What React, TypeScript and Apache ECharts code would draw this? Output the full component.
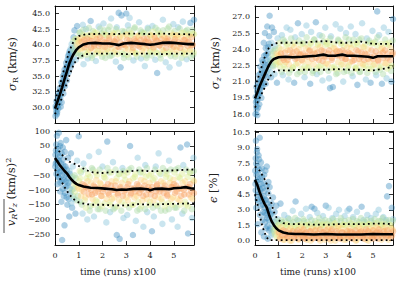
import React, { useEffect, useRef } from "react";
import * as echarts from "echarts";

// ---------- data ----------
const xTicks = [0, 1, 2, 3, 4, 5];
const sigmaRTicks = [30, 32.5, 35, 37.5, 40, 42.5, 45];
const sigmaZTicks = [18, 19.5, 21, 22.5, 24, 25.5, 27];
const vRvzTicks = [-250, -200, -150, -100, -50, 0, 50, 100];
const epsTicks = [0, 1.5, 3, 4.5, 6, 7.5, 9, 10.5];

// [time, value, densityClass]
const sigmaRPoints = [
  [0.02,28.6,0],[0.03,30.2,0],[0.05,29.3,0],[0.06,31.0,0],[0.08,28.9,0],[0.1,30.6,0],[0.12,31.8,0],[0.14,29.8,0],[0.16,32.4,0],[0.18,30.9,0],[0.2,33.1,0],[0.22,31.5,0],[0.25,32.6,0],[0.27,34.0,0],[0.28,30.8,0],[0.3,33.5,0],[0.33,35.0,0],[0.35,32.2,0],[0.37,34.6,0],[0.4,36.0,0],[0.42,33.4,0],[0.45,35.4,0],[0.47,37.1,0],[0.5,34.3,0],[0.52,36.5,0],[0.55,38.2,0],[0.57,35.6,0],[0.6,37.4,0],[0.62,39.0,0],[0.65,36.4,0],[0.68,38.6,0],[0.7,40.1,1],[0.72,37.3,0],[0.75,39.5,1],[0.78,41.2,0],[0.8,38.0,1],[0.82,42.3,0],[0.85,39.8,2],[0.88,37.6,1],[0.9,41.0,2],[0.93,43.0,0],[0.95,38.7,2],[0.98,40.6,3],
  [1.02,40.3,4],[1.05,42.0,2],[1.08,38.4,2],[1.1,41.1,4],[1.14,39.5,4],[1.17,43.2,1],[1.2,36.9,1],[1.23,40.8,5],[1.27,38.9,3],[1.3,42.5,1],[1.34,40.0,5],[1.38,37.8,1],[1.41,41.6,3],[1.45,39.2,4],[1.5,43.8,0],[1.53,40.6,5],[1.57,38.3,2],[1.6,42.2,2],[1.64,39.8,5],[1.68,41.3,4],[1.72,37.4,1],[1.75,40.9,5],[1.8,39.0,3],[1.84,42.9,1],[1.88,40.2,5],[1.92,38.6,3],[1.96,41.8,2],
  [2.0,39.6,4],[2.04,43.4,1],[2.08,40.4,5],[2.12,37.9,2],[2.16,41.5,3],[2.2,39.3,4],[2.24,42.4,2],[2.28,40.7,5],[2.32,38.2,2],[2.36,44.2,1],[2.4,40.1,5],[2.44,41.9,3],[2.48,38.8,3],[2.52,40.5,5],[2.56,37.3,1],[2.6,42.8,1],[2.64,39.7,5],[2.68,45.1,0],[2.72,41.2,4],[2.76,36.4,0],[2.8,44.7,0],[2.84,40.0,5],[2.88,38.5,2],[2.92,42.1,2],[2.96,39.4,4],
  [3.0,45.0,0],[3.03,40.8,5],[3.07,43.1,1],[3.1,38.0,2],[3.14,44.3,1],[3.18,40.3,5],[3.22,41.7,3],[3.26,39.1,4],[3.3,37.5,1],[3.34,42.6,2],[3.38,40.6,5],[3.42,38.7,3],[3.46,41.4,4],[3.5,39.9,5],[3.54,43.6,1],[3.58,40.2,5],[3.62,37.8,1],[3.66,42.0,2],[3.7,39.5,4],[3.74,41.0,5],[3.78,36.6,1],[3.82,40.5,5],[3.86,38.3,2],[3.9,42.7,1],[3.94,39.8,5],[3.98,41.6,3],
  [4.02,38.9,3],[4.06,40.4,5],[4.1,43.0,1],[4.14,39.4,4],[4.18,41.3,4],[4.22,37.6,1],[4.26,40.7,5],[4.3,35.5,0],[4.34,42.3,2],[4.38,39.9,5],[4.42,38.4,2],[4.46,41.8,3],[4.5,40.3,5],[4.54,44.0,1],[4.58,39.0,3],[4.62,41.1,4],[4.66,37.2,1],[4.7,40.6,5],[4.74,42.6,2],[4.78,38.6,3],[4.82,36.4,1],[4.86,40.0,5],[4.9,41.9,3],[4.94,39.3,4],[4.98,43.3,1],
  [5.02,40.5,5],[5.06,38.1,2],[5.1,41.5,4],[5.14,39.6,4],[5.18,42.8,1],[5.22,37.0,1],[5.26,40.2,5],[5.3,41.2,4],[5.34,38.7,3],[5.38,43.7,1],[5.42,40.8,5],[5.46,39.2,4],[5.5,42.2,2],[5.54,37.7,1],[5.58,40.4,5],[5.62,41.7,3],[5.66,38.9,3],[5.7,43.5,0],[5.74,39.9,5],[5.78,42.4,2],[5.82,38.4,2],[5.85,44.0,0],
];
const sigmaRPointsCore = [
  [0.04,29.9,0],[0.09,29.2,0],[0.13,30.3,0],[0.17,31.4,0],[0.21,32.0,0],[0.24,30.1,0],[0.29,32.9,0],[0.32,34.1,0],[0.36,33.6,0],[0.39,35.5,0],[0.43,34.9,0],[0.46,36.4,0],[0.49,35.8,0],[0.53,37.6,0],[0.56,36.9,0],[0.59,38.6,0],[0.63,37.8,0],[0.66,39.4,1],[0.69,37.0,0],[0.73,39.0,1],[0.76,40.6,2],[0.79,39.1,2],[0.84,40.9,3],[0.87,38.6,2],[0.92,40.0,4],[0.97,39.2,3],
  [1.0,40.9,4],[1.06,39.3,4],[1.12,40.5,5],[1.18,41.6,3],[1.24,39.6,5],[1.29,40.2,5],[1.35,41.0,5],[1.4,38.9,3],[1.46,40.7,5],[1.52,39.5,5],[1.58,41.4,4],[1.63,40.1,5],[1.69,39.2,4],[1.74,41.9,3],[1.79,40.4,5],[1.85,39.8,5],[1.9,41.2,5],[1.95,39.0,4],
  [2.01,40.8,5],[2.06,41.7,3],[2.11,39.7,5],[2.17,40.3,5],[2.22,38.9,3],[2.27,41.1,5],[2.33,40.0,5],[2.38,39.4,4],[2.43,41.5,4],[2.49,40.6,5],[2.54,39.1,4],[2.59,40.9,5],[2.65,41.9,3],[2.7,39.6,5],[2.75,40.4,5],[2.81,38.8,3],[2.86,41.3,4],[2.91,40.1,5],[2.97,39.9,5],
  [3.02,41.6,4],[3.08,39.3,4],[3.13,40.7,5],[3.19,41.9,3],[3.24,40.0,5],[3.29,39.5,5],[3.35,40.9,5],[3.4,38.6,3],[3.45,40.4,5],[3.51,41.3,4],[3.56,39.7,5],[3.61,40.8,5],[3.67,39.0,4],[3.72,41.8,3],[3.77,40.2,5],[3.83,39.4,4],[3.88,41.0,5],[3.93,40.5,5],[3.99,38.9,3],
  [4.04,41.5,4],[4.09,40.1,5],[4.15,39.6,5],[4.2,41.1,5],[4.25,38.8,3],[4.31,40.6,5],[4.36,41.8,3],[4.41,39.9,5],[4.47,40.9,5],[4.52,39.2,4],[4.57,41.4,4],[4.63,40.3,5],[4.68,39.5,5],[4.73,41.0,5],[4.79,40.7,5],[4.84,38.9,3],[4.89,40.2,5],[4.95,41.6,4],
  [5.0,39.7,5],[5.05,40.9,5],[5.11,39.1,4],[5.16,41.3,4],[5.21,40.4,5],[5.27,39.5,5],[5.32,41.9,3],[5.37,40.1,5],[5.43,38.8,3],[5.48,40.8,5],[5.53,41.4,4],[5.59,39.8,5],[5.64,40.5,5],[5.69,39.2,4],[5.75,41.2,5],[5.8,40.0,5],[5.85,41.7,3],
];
const sigmaRPointsMid = [
  [1.03,41.9,2],[1.11,38.2,2],[1.19,42.4,2],[1.26,41.4,3],[1.33,38.4,3],[1.43,42.7,2],[1.49,41.5,3],[1.55,37.9,2],[1.66,42.0,3],[1.73,38.6,3],[1.82,41.6,3],[1.9,42.6,2],[1.98,38.1,2],
  [2.07,42.3,2],[2.14,38.7,3],[2.21,41.5,3],[2.3,42.9,2],[2.39,38.3,2],[2.46,41.8,3],[2.57,42.5,2],[2.63,38.5,3],[2.74,41.4,3],[2.83,42.2,2],[2.9,37.9,2],[2.99,41.7,3],
  [3.05,38.4,3],[3.12,42.4,2],[3.2,41.4,3],[3.28,38.8,3],[3.36,42.8,2],[3.44,38.1,2],[3.53,41.6,3],[3.6,42.3,2],[3.69,38.5,3],[3.76,41.9,2],[3.85,37.9,2],[3.92,42.5,2],
  [4.0,41.4,3],[4.07,38.3,2],[4.13,42.1,3],[4.23,42.7,2],[4.29,38.7,3],[4.39,41.5,3],[4.45,37.8,2],[4.55,42.3,2],[4.6,38.6,3],[4.71,41.7,3],[4.8,42.9,2],[4.87,38.2,2],[4.93,41.4,3],
  [5.03,42.2,2],[5.09,38.5,3],[5.17,41.6,3],[5.25,42.6,2],[5.33,37.9,2],[5.41,41.9,3],[5.49,38.4,3],[5.57,42.4,2],[5.65,41.5,3],[5.72,38.0,2],[5.8,41.8,3],[5.84,38.8,3],
];
const sigmaRMedian = [[0,29.8],[0.1,30.9],[0.2,32.0],[0.3,33.2],[0.4,34.5],[0.5,35.7],[0.6,37.0],[0.7,37.9],[0.78,38.5],[0.9,39.2],[1.0,39.6],[1.2,40.05],[1.4,40.25],[1.7,40.3],[2.0,40.2],[2.3,40.2],[2.5,40.1],[2.7,39.95],[2.9,40.2],[3.2,40.3],[3.5,40.2],[3.8,40.1],[4.0,40.0],[4.2,40.1],[4.5,40.3],[4.8,40.35],[5.0,40.3],[5.3,40.2],[5.6,40.1],[5.85,40.1]];
const sigmaRUpper = [[0,31.0],[0.2,33.5],[0.4,36.3],[0.6,39.0],[0.8,40.7],[1.0,41.4],[1.3,41.7],[1.6,41.7],[2,41.8],[2.5,41.7],[3,41.8],[3.5,41.8],[4,41.7],[4.5,41.8],[5,41.7],[5.5,41.7],[5.85,41.6]];
const sigmaRLower = [[0,28.9],[0.2,30.6],[0.4,32.7],[0.6,35.0],[0.8,37.0],[1.0,38.0],[1.3,38.5],[1.6,38.6],[2,38.6],[2.5,38.6],[3,38.5],[3.5,38.6],[4,38.6],[4.5,38.5],[5,38.6],[5.5,38.6],[5.85,38.6]];

const sigmaZPoints = [
  [0.02,18.0,0],[0.03,19.6,0],[0.05,18.7,0],[0.06,20.5,0],[0.08,19.2,0],[0.1,17.9,0],[0.12,20.9,0],[0.14,19.8,0],[0.16,21.6,0],[0.18,18.9,0],[0.2,20.3,0],[0.22,22.4,0],[0.25,21.1,0],[0.27,19.5,0],[0.3,23.0,0],[0.32,20.6,0],[0.35,21.8,0],[0.37,24.6,0],[0.4,22.3,0],[0.42,25.5,0],[0.45,20.8,0],[0.47,23.5,0],[0.5,21.9,0],[0.52,26.1,0],[0.55,24.2,0],[0.57,22.6,0],[0.6,25.2,0],[0.62,27.1,0],[0.65,23.0,1],[0.68,21.4,0],[0.7,24.6,1],[0.72,26.0,0],[0.75,22.5,1],[0.78,23.8,2],[0.8,25.6,0],[0.83,21.7,1],[0.86,24.3,1],[0.9,22.9,3],[0.93,20.9,0],[0.96,25.0,1],[0.99,23.4,4],
  [1.02,24.1,3],[1.06,22.4,3],[1.1,23.6,5],[1.14,25.3,1],[1.18,21.6,1],[1.22,23.0,5],[1.26,24.7,2],[1.3,22.8,4],[1.34,26.0,1],[1.38,23.9,4],[1.42,21.2,1],[1.46,23.3,5],[1.5,25.8,1],[1.54,22.1,2],[1.58,24.4,3],[1.62,23.7,5],[1.66,20.9,0],[1.7,25.1,1],[1.74,22.6,3],[1.78,23.2,5],[1.82,26.4,0],[1.86,24.0,4],[1.9,21.9,2],[1.94,23.5,5],[1.98,25.4,1],
  [2.02,22.9,4],[2.06,24.6,2],[2.1,21.4,1],[2.14,23.4,5],[2.18,26.2,1],[2.22,22.3,3],[2.26,24.2,3],[2.3,23.8,5],[2.34,20.8,0],[2.38,25.6,1],[2.42,23.1,5],[2.46,22.0,2],[2.5,24.9,2],[2.54,23.6,5],[2.58,26.5,0],[2.62,21.7,1],[2.66,24.4,3],[2.7,23.0,5],[2.74,25.3,1],[2.78,22.5,3],[2.82,23.9,5],[2.86,21.1,1],[2.9,24.7,2],[2.94,23.3,5],[2.98,26.0,1],
  [3.02,22.7,4],[3.06,24.5,3],[3.1,23.6,5],[3.14,21.3,1],[3.18,20.4,0],[3.22,25.2,1],[3.26,23.2,5],[3.3,20.5,0],[3.34,24.1,4],[3.38,22.2,3],[3.42,26.3,1],[3.46,23.8,5],[3.5,21.8,2],[3.54,24.8,2],[3.58,23.4,5],[3.62,25.9,1],[3.66,22.6,3],[3.7,23.9,5],[3.74,21.0,1],[3.78,24.3,3],[3.82,23.1,5],[3.86,25.5,1],[3.9,22.0,2],[3.94,23.7,5],[3.98,24.9,2],
  [4.02,22.8,4],[4.06,26.1,1],[4.1,23.5,5],[4.14,21.5,1],[4.18,24.4,3],[4.22,23.0,5],[4.26,25.4,1],[4.3,22.3,3],[4.34,20.7,0],[4.38,23.8,5],[4.42,24.9,2],[4.46,21.9,2],[4.5,23.3,5],[4.54,26.4,1],[4.58,22.6,4],[4.62,24.2,3],[4.66,23.6,5],[4.7,21.2,1],[4.74,25.0,1],[4.78,23.1,5],[4.82,22.2,3],[4.86,24.6,2],[4.9,20.9,0],[4.94,23.9,5],[4.98,25.7,1],
  [5.02,22.5,3],[5.06,23.4,5],[5.1,24.7,2],[5.14,21.6,1],[5.18,27.5,0],[5.22,23.0,5],[5.26,25.3,1],[5.3,22.1,2],[5.34,24.0,4],[5.38,20.8,0],[5.42,23.7,5],[5.46,26.0,1],[5.5,22.7,4],[5.54,24.5,3],[5.58,21.3,1],[5.62,23.2,5],[5.66,25.6,1],[5.7,22.4,3],[5.74,24.1,4],[5.78,21.0,0],[5.82,23.5,5],[5.85,26.8,0],
];
const sigmaZPointsCore = [
  [0.04,19.1,0],[0.07,18.4,0],[0.09,20.1,0],[0.11,19.4,0],[0.13,18.6,0],[0.15,20.6,0],[0.17,19.9,0],[0.19,21.2,0],[0.21,20.0,0],[0.24,21.8,0],[0.26,20.5,0],[0.29,22.1,0],[0.31,21.3,0],[0.34,22.8,0],[0.36,20.9,0],[0.39,23.4,0],[0.41,21.6,0],[0.44,22.5,0],[0.46,24.1,0],[0.49,23.0,0],[0.51,21.4,0],[0.54,23.6,0],[0.56,22.2,1],[0.59,24.5,0],[0.61,23.1,1],[0.64,21.9,1],[0.66,24.0,1],[0.69,22.8,2],[0.73,23.5,2],[0.77,22.4,2],[0.81,23.2,3],[0.85,24.0,2],[0.88,22.6,3],[0.92,23.6,4],[0.97,22.8,3],
  [1.0,23.5,4],[1.05,22.8,4],[1.11,24.0,4],[1.16,23.2,5],[1.22,22.5,3],[1.27,23.7,5],[1.33,24.3,3],[1.38,23.0,5],[1.44,22.6,4],[1.49,23.9,5],[1.55,23.4,5],[1.6,22.3,3],[1.66,24.2,4],[1.71,23.1,5],[1.77,23.8,5],[1.82,22.7,4],[1.88,23.5,5],[1.93,24.4,3],[1.99,23.0,5],
  [2.04,23.6,5],[2.1,22.4,3],[2.15,24.1,4],[2.21,23.3,5],[2.26,22.8,4],[2.32,23.9,5],[2.37,24.5,3],[2.43,23.5,5],[2.48,22.6,4],[2.54,24.0,4],[2.59,23.2,5],[2.65,23.7,5],[2.7,22.4,3],[2.76,24.2,4],[2.81,23.4,5],[2.87,22.9,5],[2.92,23.8,5],[2.98,24.4,3],
  [3.03,23.3,5],[3.09,22.6,4],[3.14,23.9,5],[3.2,24.3,3],[3.25,23.0,5],[3.31,23.6,5],[3.36,22.4,3],[3.42,24.0,4],[3.47,23.4,5],[3.53,22.8,4],[3.58,23.8,5],[3.64,24.5,3],[3.69,23.2,5],[3.75,22.6,4],[3.8,23.7,5],[3.86,23.1,5],[3.91,24.2,4],[3.97,22.5,3],
  [4.02,23.6,5],[4.08,24.1,4],[4.13,22.9,5],[4.19,23.4,5],[4.24,22.3,3],[4.3,23.9,5],[4.35,24.4,3],[4.41,23.1,5],[4.46,22.7,4],[4.52,23.7,5],[4.57,24.2,4],[4.63,23.0,5],[4.68,22.5,3],[4.74,23.5,5],[4.79,24.0,4],[4.85,22.8,4],[4.9,23.3,5],[4.96,24.5,3],
  [5.01,23.1,5],[5.07,22.6,4],[5.12,23.8,5],[5.18,24.3,3],[5.23,22.9,5],[5.29,23.5,5],[5.34,22.4,3],[5.4,24.1,4],[5.45,23.2,5],[5.51,23.9,5],[5.56,22.7,4],[5.62,23.6,5],[5.67,24.4,3],[5.73,23.0,5],[5.78,22.5,3],[5.84,23.7,5],
];
const sigmaZPointsMid = [
  [1.04,24.6,3],[1.13,21.9,2],[1.2,24.9,2],[1.29,22.2,3],[1.37,24.5,3],[1.45,21.8,2],[1.53,25.0,2],[1.61,22.3,3],[1.69,24.6,3],[1.79,21.7,2],[1.87,24.8,2],[1.96,22.2,3],
  [2.03,24.5,3],[2.12,21.9,2],[2.19,25.1,2],[2.28,22.3,3],[2.35,24.6,3],[2.44,21.8,2],[2.52,24.9,2],[2.61,22.2,3],[2.68,24.5,3],[2.77,21.9,2],[2.85,25.2,2],[2.95,22.3,3],
  [3.04,24.7,3],[3.11,22.0,2],[3.19,25.0,2],[3.27,22.3,3],[3.35,24.5,3],[3.44,21.7,2],[3.52,24.9,2],[3.6,22.2,3],[3.68,24.6,3],[3.77,21.9,2],[3.84,25.1,2],[3.93,22.3,3],
  [4.01,24.5,3],[4.09,21.8,2],[4.17,24.9,2],[4.27,22.2,3],[4.33,24.6,3],[4.43,21.9,2],[4.51,25.0,2],[4.59,22.3,3],[4.67,24.5,3],[4.76,21.8,2],[4.84,24.8,2],[4.93,22.2,3],
  [5.03,24.6,3],[5.11,21.9,2],[5.19,25.1,2],[5.27,22.3,3],[5.35,24.5,3],[5.43,21.7,2],[5.52,24.9,2],[5.6,22.2,3],[5.69,24.6,3],[5.77,22.0,2],[5.83,24.8,2],
];
const sigmaZMedian = [[0,19.45],[0.1,20.0],[0.2,20.6],[0.3,21.1],[0.4,21.6],[0.5,22.1],[0.6,22.55],[0.7,22.9],[0.8,23.1],[1.0,23.25],[1.3,23.3],[1.6,23.25],[2.0,23.3],[2.3,23.35],[2.6,23.4],[2.9,23.5],[3.1,23.4],[3.4,23.4],[3.7,23.5],[3.9,23.4],[4.2,23.4],[4.5,23.35],[4.8,23.3],[5.0,23.2],[5.2,23.35],[5.5,23.35],[5.85,23.35]];
const sigmaZUpper = [[0,20.5],[0.2,21.8],[0.4,23.2],[0.6,24.2],[0.8,24.5],[1.0,24.6],[1.5,24.6],[2,24.6],[2.5,24.7],[3,24.75],[3.5,24.6],[4,24.6],[4.5,24.7],[5,24.5],[5.5,24.5],[5.85,24.5]];
const sigmaZLower = [[0,18.6],[0.2,19.5],[0.4,20.4],[0.6,21.4],[0.8,21.9],[1.0,22.05],[1.5,22.05],[2,22.1],[2.5,22.1],[3,22.1],[3.5,22.15],[4,22.1],[4.5,22.1],[5,22.05],[5.5,22.2],[5.85,22.4]];

const vRvzPoints = [
  [0.02,20,0],[0.03,-10,0],[0.05,55,0],[0.06,-45,0],[0.08,85,0],[0.1,5,0],[0.11,-80,0],[0.13,40,0],[0.15,-25,0],[0.16,95,0],[0.18,-60,0],[0.2,15,0],[0.22,-105,0],[0.24,60,0],[0.25,-35,0],[0.27,-140,0],[0.28,25,0],[0.3,-270,0],[0.31,-70,0],[0.33,45,0],[0.35,-15,0],[0.37,-120,0],[0.4,-220,0],[0.41,30,0],[0.43,-50,0],[0.45,-90,0],[0.47,70,0],[0.5,-30,0],[0.52,-150,0],[0.55,10,0],[0.57,-75,0],[0.6,-190,0],[0.62,-45,0],[0.65,-110,0],[0.67,25,0],[0.7,-60,1],[0.72,-160,0],[0.75,-20,1],[0.78,-95,1],[0.8,-130,1],[0.83,-50,2],[0.86,-180,0],[0.9,-85,3],[0.93,0,1],[0.96,-120,2],[1.0,83,0],
  [1.02,-70,3],[1.05,-140,2],[1.09,-40,2],[1.12,-100,4],[1.16,-180,1],[1.2,-10,1],[1.24,-85,5],[1.28,-125,4],[1.32,-60,3],[1.36,-200,1],[1.4,-95,5],[1.44,15,1],[1.48,-155,2],[1.52,-75,4],[1.56,-115,5],[1.6,-30,2],[1.64,-190,1],[1.68,-90,5],[1.72,-135,3],[1.76,-50,3],[1.8,-105,5],[1.84,30,1],[1.88,-165,2],[1.92,-80,4],[1.96,-120,4],
  [2.0,-20,1],[2.04,-95,5],[2.08,-145,3],[2.12,-60,3],[2.16,-210,1],[2.2,65,0],[2.24,-110,5],[2.28,-40,2],[2.32,-175,1],[2.36,-85,5],[2.4,-130,4],[2.44,-5,1],[2.48,-100,5],[2.52,-160,2],[2.56,-70,4],[2.6,-253,0],[2.64,-115,5],[2.68,-45,2],[2.72,-266,0],[2.76,-90,5],[2.8,-140,3],[2.84,-25,1],[2.88,-195,1],[2.92,-105,5],[2.96,-65,3],
  [3.0,-125,4],[3.04,-185,1],[3.08,-80,5],[3.12,-30,2],[3.16,50,0],[3.2,-110,5],[3.24,-150,3],[3.28,-253,0],[3.32,-95,5],[3.36,-55,3],[3.4,-205,1],[3.44,-120,4],[3.48,10,1],[3.52,-85,5],[3.56,-165,2],[3.6,-40,2],[3.64,-100,5],[3.68,-135,4],[3.72,-225,1],[3.76,-70,4],[3.8,-15,1],[3.84,-115,5],[3.88,-175,1],[3.92,-90,5],[3.96,-50,3],
  [4.0,-140,3],[4.04,-100,5],[4.08,-240,0],[4.12,-65,3],[4.16,-190,1],[4.2,-120,5],[4.24,-20,1],[4.28,-85,5],[4.32,-155,2],[4.36,25,1],[4.4,-105,5],[4.44,-45,2],[4.48,-130,4],[4.52,-215,1],[4.56,-75,4],[4.6,-95,5],[4.64,-170,2],[4.68,-35,2],[4.72,-115,5],[4.76,-145,3],[4.8,0,1],[4.84,-60,3],[4.88,-90,5],[4.92,-200,1],[4.96,-125,4],
  [5.0,-80,5],[5.04,-160,2],[5.08,-30,2],[5.12,-105,5],[5.16,-225,1],[5.2,-55,3],[5.24,-135,4],[5.28,45,0],[5.32,-95,5],[5.36,-180,1],[5.4,-15,1],[5.44,-115,5],[5.48,-70,4],[5.52,-150,3],[5.56,55,0],[5.6,-248,0],[5.64,-90,5],[5.68,-40,2],[5.72,-125,4],[5.76,-195,1],[5.8,-65,3],[5.83,10,1],[5.85,-110,5],
];
const vRvzPointsCore = [
  [0.01,-20,0],[0.04,35,0],[0.07,-5,0],[0.09,-30,0],[0.12,25,0],[0.14,-55,0],[0.17,0,0],[0.19,-40,0],[0.21,50,0],[0.23,-75,0],[0.26,-10,0],[0.29,-50,0],[0.32,-95,0],[0.34,5,0],[0.36,-65,0],[0.38,-30,0],[0.42,-110,0],[0.44,-20,0],[0.46,-70,0],[0.49,-125,0],[0.51,-45,0],[0.53,-85,0],[0.56,-60,0],[0.58,-130,0],[0.61,-35,1],[0.63,-95,1],[0.66,-70,1],[0.69,-145,1],[0.71,-100,2],[0.74,-55,2],[0.77,-120,2],[0.81,-80,3],[0.84,-105,3],[0.88,-60,2],[0.92,-135,2],[0.97,-90,4],
  [1.0,-95,4],[1.05,-60,3],[1.1,-120,4],[1.15,-80,5],[1.21,-105,5],[1.26,-135,3],[1.31,-90,5],[1.37,-70,4],[1.42,-115,5],[1.47,-55,3],[1.53,-100,5],[1.58,-130,4],[1.63,-85,5],[1.69,-110,5],[1.74,-65,4],[1.79,-140,3],[1.85,-95,5],[1.9,-75,4],[1.95,-120,5],
  [2.01,-105,5],[2.06,-55,3],[2.11,-90,5],[2.17,-130,4],[2.22,-80,5],[2.27,-115,5],[2.33,-140,3],[2.38,-70,4],[2.43,-100,5],[2.49,-125,4],[2.54,-85,5],[2.59,-60,3],[2.65,-110,5],[2.7,-135,4],[2.75,-95,5],[2.81,-75,4],[2.86,-120,5],[2.91,-50,3],[2.97,-100,5],
  [3.02,-90,5],[3.07,-135,4],[3.13,-70,4],[3.18,-115,5],[3.23,-95,5],[3.29,-60,3],[3.34,-125,4],[3.39,-105,5],[3.45,-80,5],[3.5,-140,3],[3.55,-110,5],[3.61,-65,4],[3.66,-95,5],[3.71,-120,5],[3.77,-85,5],[3.82,-55,3],[3.87,-130,4],[3.93,-100,5],[3.98,-75,4],
  [4.03,-115,5],[4.09,-90,5],[4.14,-135,4],[4.19,-60,3],[4.25,-105,5],[4.3,-80,5],[4.35,-125,4],[4.41,-95,5],[4.46,-70,4],[4.51,-140,3],[4.57,-110,5],[4.62,-85,5],[4.67,-55,3],[4.73,-120,5],[4.78,-100,5],[4.83,-75,4],[4.89,-130,4],[4.94,-90,5],[4.99,-65,4],
  [5.05,-110,5],[5.1,-85,5],[5.15,-130,4],[5.21,-95,5],[5.26,-60,3],[5.31,-120,5],[5.37,-75,4],[5.42,-100,5],[5.47,-140,3],[5.53,-90,5],[5.58,-55,3],[5.63,-115,5],[5.69,-80,5],[5.74,-105,5],[5.79,-130,4],[5.85,-70,4],
];
const vRvzPointsMid = [
  [1.04,-35,3],[1.13,-150,2],[1.21,-30,2],[1.3,-160,3],[1.39,-45,3],[1.46,-170,2],[1.55,-25,2],[1.62,-150,3],[1.71,-40,3],[1.8,-165,2],[1.88,-30,2],[1.97,-155,3],
  [2.05,-45,3],[2.13,-170,2],[2.21,-25,2],[2.3,-150,3],[2.37,-40,3],[2.46,-165,2],[2.55,-30,2],[2.62,-155,3],[2.71,-45,3],[2.79,-170,2],[2.87,-35,2],[2.95,-150,3],
  [3.05,-40,3],[3.12,-160,2],[3.21,-25,2],[3.3,-150,3],[3.38,-45,3],[3.46,-170,2],[3.54,-30,2],[3.63,-155,3],[3.7,-40,3],[3.79,-165,2],[3.87,-25,2],[3.95,-150,3],
  [4.05,-45,3],[4.12,-160,2],[4.21,-30,2],[4.29,-150,3],[4.38,-40,3],[4.46,-170,2],[4.54,-25,2],[4.62,-155,3],[4.7,-45,3],[4.79,-165,2],[4.87,-30,2],[4.95,-150,3],
  [5.03,-40,3],[5.11,-160,2],[5.19,-25,2],[5.28,-150,3],[5.35,-45,3],[5.44,-170,2],[5.52,-30,2],[5.6,-155,3],[5.68,-40,3],[5.76,-165,2],[5.84,-35,2],
];
const vRvzMedian = [[0,9],[0.1,-3],[0.2,-15],[0.3,-25],[0.4,-35],[0.5,-43],[0.6,-55],[0.7,-65],[0.8,-73],[0.9,-79],[1.0,-83],[1.2,-88],[1.5,-92],[1.8,-93],[2.1,-95],[2.4,-97],[2.6,-100],[2.8,-98],[3.0,-99],[3.3,-96],[3.6,-95],[3.9,-97],[4.0,-101],[4.2,-96],[4.5,-95],[4.8,-97],[5.0,-94],[5.3,-92],[5.5,-90],[5.7,-94],[5.85,-95]];
const vRvzUpper = [[0,45],[0.2,30],[0.4,10],[0.6,-3],[0.8,-10],[1.0,-18],[1.3,-32],[1.6,-40],[2,-42],[2.5,-38],[3,-37],[3.5,-33],[4,-36],[4.5,-35],[5,-33],[5.5,-31],[5.85,-30]];
const vRvzLower = [[0,-30],[0.2,-60],[0.4,-90],[0.6,-115],[0.8,-132],[1.0,-142],[1.3,-148],[1.6,-150],[2,-150],[2.5,-152],[3,-152],[3.5,-148],[4,-150],[4.5,-148],[5,-147],[5.5,-146],[5.85,-145]];

const epsPoints = [
  [0.02,5.5,0],[0.03,8.0,0],[0.04,9.7,0],[0.05,3.2,0],[0.06,6.4,0],[0.08,8.6,0],[0.09,4.4,0],[0.1,7.2,0],[0.12,1.6,0],[0.13,5.9,0],[0.15,8.3,0],[0.16,3.8,0],[0.18,6.9,0],[0.2,10.0,0],[0.21,2.5,0],[0.23,5.0,0],[0.25,7.6,0],[0.27,0.8,0],[0.28,4.2,0],[0.3,6.2,0],[0.32,2.0,0],[0.34,3.5,0],[0.36,5.6,0],[0.38,0.4,0],[0.4,4.8,0],[0.42,2.7,0],[0.44,6.8,0],[0.46,1.2,0],[0.48,3.9,0],[0.5,7.2,0],[0.52,2.2,0],[0.54,0.2,0],[0.56,4.6,0],[0.58,3.0,0],[0.6,1.0,0],[0.62,5.2,0],[0.65,2.5,0],[0.68,0.5,1],[0.7,3.6,0],[0.73,1.6,1],[0.76,4.2,0],[0.8,0.9,2],[0.83,2.8,0],[0.86,1.4,2],[0.9,3.4,0],[0.93,0.3,3],[0.96,2.1,1],
  [1.0,1.2,3],[1.04,0.4,4],[1.08,3.6,0],[1.12,0.9,4],[1.16,1.8,2],[1.2,0.1,4],[1.24,2.5,1],[1.28,0.6,5],[1.32,1.4,3],[1.36,0.3,5],[1.4,2.2,1],[1.44,1.0,4],[1.48,0.0,4],[1.52,1.7,2],[1.56,0.7,5],[1.6,2.9,1],[1.64,0.4,5],[1.68,1.2,3],[1.72,3.8,0],[1.76,0.8,5],[1.8,2.0,1],[1.84,0.2,5],[1.88,1.5,3],[1.92,0.6,5],[1.96,2.6,1],
  [2.0,1.0,4],[2.04,0.3,5],[2.08,1.9,2],[2.12,0.7,5],[2.16,3.1,1],[2.2,0.1,4],[2.24,1.3,3],[2.28,0.5,5],[2.32,2.3,1],[2.36,0.9,5],[2.4,3.3,0],[2.44,0.2,5],[2.48,1.6,2],[2.52,3.1,0],[2.56,0.6,5],[2.6,1.1,4],[2.64,2.7,1],[2.68,0.4,5],[2.72,1.8,2],[2.76,0.0,4],[2.8,1.3,3],[2.84,0.8,5],[2.88,2.4,1],[2.92,0.3,5],[2.96,1.5,3],
  [3.0,3.4,0],[3.04,0.6,5],[3.08,1.1,4],[3.12,3.2,1],[3.16,0.2,5],[3.2,1.7,2],[3.24,0.9,5],[3.28,2.2,1],[3.32,0.4,5],[3.36,1.4,3],[3.4,0.0,4],[3.44,2.6,1],[3.48,0.7,5],[3.52,1.2,4],[3.56,3.0,1],[3.6,0.3,5],[3.64,1.9,2],[3.68,0.8,5],[3.72,1.5,3],[3.76,0.1,4],[3.8,2.4,1],[3.84,0.6,5],[3.88,1.0,4],[3.92,2.9,1],[3.96,0.4,5],
  [4.0,3.1,0],[4.04,0.9,5],[4.08,1.6,2],[4.12,0.2,5],[4.16,2.3,1],[4.2,0.7,5],[4.24,1.3,3],[4.28,0.0,4],[4.32,2.8,1],[4.36,0.5,5],[4.4,1.8,2],[4.44,0.8,5],[4.48,1.1,4],[4.52,3.3,0],[4.56,0.3,5],[4.6,2.0,1],[4.64,0.6,5],[4.68,1.4,3],[4.72,0.1,4],[4.76,2.5,1],[4.8,0.9,5],[4.84,1.6,3],[4.88,0.4,5],[4.92,2.2,1],[4.96,1.0,4],
  [5.0,0.2,5],[5.04,1.7,2],[5.08,0.7,5],[5.12,2.6,1],[5.16,0.4,5],[5.2,1.2,4],[5.24,3.0,1],[5.28,0.8,5],[5.32,1.9,2],[5.36,0.1,4],[5.4,1.4,3],[5.44,2.3,1],[5.48,0.6,5],[5.52,1.0,4],[5.56,2.0,1],[5.6,4.3,0],[5.64,0.5,5],[5.68,5.3,0],[5.72,1.5,3],[5.76,0.3,5],[5.8,3.2,0],[5.83,1.1,4],[5.85,2.1,1],
];
const epsPointsCore = [
  [0.01,6.8,0],[0.03,4.9,0],[0.05,7.5,0],[0.07,5.8,0],[0.09,8.9,0],[0.11,4.0,0],[0.13,6.5,0],[0.15,5.2,0],[0.17,7.9,0],[0.19,4.6,0],[0.22,6.0,0],[0.24,3.4,0],[0.26,5.5,0],[0.29,7.0,0],[0.31,3.9,0],[0.33,5.1,0],[0.35,2.8,0],[0.37,4.3,0],[0.39,6.4,0],[0.41,3.2,0],[0.43,1.8,0],[0.45,4.0,0],[0.47,2.5,0],[0.49,5.3,0],[0.51,3.6,0],[0.53,1.4,0],[0.55,2.9,0],[0.57,5.7,0],[0.59,2.0,0],[0.61,3.3,0],[0.64,1.2,0],[0.66,2.6,0],[0.69,1.9,1],[0.72,0.7,1],[0.75,2.3,1],[0.78,1.1,2],[0.82,1.8,1],[0.85,0.6,3],[0.88,1.2,3],[0.92,1.9,2],[0.95,0.8,4],[0.98,1.5,3],
  [1.02,0.8,5],[1.06,0.2,5],[1.1,1.3,4],[1.15,0.5,5],[1.2,1.0,5],[1.25,0.1,4],[1.3,0.9,5],[1.35,1.5,3],[1.4,0.4,5],[1.45,0.7,5],[1.5,1.2,4],[1.55,0.0,4],[1.6,0.9,5],[1.65,0.3,5],[1.7,1.4,3],[1.75,0.6,5],[1.8,1.0,5],[1.85,0.1,4],[1.9,0.8,5],[1.95,1.3,4],
  [2.01,0.5,5],[2.06,1.1,5],[2.11,0.2,5],[2.16,0.8,5],[2.21,1.5,3],[2.26,0.4,5],[2.31,0.9,5],[2.36,0.0,4],[2.41,1.2,4],[2.46,0.6,5],[2.51,0.3,5],[2.56,1.0,5],[2.61,1.4,3],[2.66,0.7,5],[2.71,0.2,5],[2.76,1.1,5],[2.81,0.5,5],[2.86,1.6,3],[2.91,0.8,5],[2.96,0.1,4],
  [3.01,1.0,5],[3.06,0.4,5],[3.11,1.3,4],[3.16,0.7,5],[3.21,0.0,4],[3.26,1.1,5],[3.31,0.6,5],[3.36,1.6,3],[3.41,0.3,5],[3.46,0.9,5],[3.51,1.4,4],[3.56,0.5,5],[3.61,0.2,5],[3.66,1.2,4],[3.71,0.8,5],[3.76,0.4,5],[3.81,1.5,3],[3.86,0.1,4],[3.91,0.9,5],[3.96,0.6,5],
  [4.01,1.2,4],[4.06,0.3,5],[4.11,0.8,5],[4.16,1.5,3],[4.21,0.5,5],[4.26,1.0,5],[4.31,0.1,4],[4.36,0.7,5],[4.41,1.3,4],[4.46,0.4,5],[4.51,0.9,5],[4.56,1.6,3],[4.61,0.2,5],[4.66,0.8,5],[4.71,1.1,5],[4.76,0.5,5],[4.81,0.0,4],[4.86,1.2,4],[4.91,0.7,5],[4.96,0.3,5],
  [5.01,1.0,5],[5.06,0.5,5],[5.11,1.4,4],[5.16,0.8,5],[5.21,0.2,5],[5.26,1.1,5],[5.31,0.6,5],[5.36,1.6,3],[5.41,0.3,5],[5.46,0.9,5],[5.51,1.3,4],[5.56,0.4,5],[5.61,1.0,5],[5.66,0.1,4],[5.71,0.7,5],[5.76,1.2,4],[5.81,0.5,5],[5.85,0.9,5],
];
const epsPointsMid = [
  [1.03,1.7,2],[1.11,2.0,2],[1.19,1.5,3],[1.28,1.9,2],[1.36,1.6,3],[1.45,2.1,2],[1.53,1.4,3],[1.62,1.8,2],[1.7,2.2,2],[1.79,1.5,3],[1.87,1.9,2],[1.96,1.6,3],
  [2.05,2.1,2],[2.13,1.5,3],[2.22,1.8,2],[2.3,1.6,3],[2.39,2.0,2],[2.47,1.4,3],[2.55,1.9,2],[2.63,1.7,3],[2.72,2.2,2],[2.8,1.5,3],[2.89,1.8,2],[2.97,2.0,2],
  [3.05,1.6,3],[3.14,1.9,2],[3.22,1.5,3],[3.31,2.1,2],[3.39,1.7,3],[3.47,1.9,2],[3.56,1.4,3],[3.64,2.2,2],[3.73,1.6,3],[3.81,1.9,2],[3.9,1.5,3],[3.98,2.0,2],
  [4.06,1.7,3],[4.15,2.1,2],[4.23,1.5,3],[4.32,1.9,2],[4.4,1.6,3],[4.49,2.2,2],[4.57,1.5,3],[4.66,1.8,2],[4.74,2.0,2],[4.83,1.6,3],[4.91,1.9,2],[4.99,1.5,3],
  [5.07,2.1,2],[5.16,1.7,3],[5.24,1.9,2],[5.33,1.5,3],[5.41,2.2,2],[5.5,1.6,3],[5.58,1.8,2],[5.67,2.0,2],[5.75,1.5,3],[5.84,1.9,2],
];
const epsMedian = [[0,5.9],[0.1,5.4],[0.2,4.7],[0.3,4.1],[0.4,3.6],[0.5,3.2],[0.6,2.5],[0.7,1.9],[0.8,1.5],[0.9,1.2],[1.0,1.0],[1.2,0.8],[1.4,0.7],[1.7,0.65],[2,0.65],[2.5,0.6],[3,0.65],[3.5,0.6],[4,0.6],[4.5,0.6],[5,0.65],[5.5,0.62],[5.85,0.62]];
const epsUpper = [[0,7.2],[0.2,6.8],[0.4,6.0],[0.5,5.5],[0.6,4.6],[0.7,3.6],[0.8,2.8],[0.9,2.3],[1.0,2.0],[1.2,1.7],[1.5,1.6],[2,1.6],[2.5,1.55],[3,1.55],[3.5,1.6],[4,1.6],[4.5,1.6],[5,1.65],[5.5,1.65],[5.85,1.6]];
const epsLower = [[0,4.5],[0.1,3.6],[0.2,2.5],[0.3,1.5],[0.4,0.8],[0.5,0.3],[0.6,0.05],[0.8,0.05],[1,0.05],[2,0.05],[3,0.05],[4,0.05],[5,0.05],[5.85,0.05]];

// ---------- styling ----------
const PALETTE = ["#3f8fc2", "#80c2d8", "#a9d9a2", "#dceb90", "#fdd57e", "#f9a05e"];
const SERIF = "DejaVu Serif";
const TEXT = "#222";

const grids = [
  { left: 55, top: 6, width: 139, height: 117 },
  { left: 255, top: 6, width: 138, height: 117 },
  { left: 55, top: 131, width: 139, height: 114 },
  { left: 255, top: 131, width: 138, height: 114 },
];

const panels = [
  { pts: [...sigmaRPoints, ...sigmaRPointsCore, ...sigmaRPointsMid], med: sigmaRMedian, up: sigmaRUpper, lo: sigmaRLower, ticks: sigmaRTicks, min: 27.5, max: 46.2, fmt: (v: number) => v.toFixed(1), xl: false },
  { pts: [...sigmaZPoints, ...sigmaZPointsCore, ...sigmaZPointsMid], med: sigmaZMedian, up: sigmaZUpper, lo: sigmaZLower, ticks: sigmaZTicks, min: 17.17, max: 28.0, fmt: (v: number) => v.toFixed(1), xl: false },
  { pts: [...vRvzPoints, ...vRvzPointsCore, ...vRvzPointsMid], med: vRvzMedian, up: vRvzUpper, lo: vRvzLower, ticks: vRvzTicks, min: -287, max: 101, fmt: (v: number) => (v < 0 ? "\u2212" + Math.abs(v) : String(v)), xl: true },
  { pts: [...epsPoints, ...epsPointsCore, ...epsPointsMid], med: epsMedian, up: epsUpper, lo: epsLower, ticks: epsTicks, min: -0.42, max: 10.65, fmt: (v: number) => v.toFixed(1), xl: true },
];

function buildOption() {
  const xAxis: any[] = [];
  const yAxis: any[] = [];
  const series: any[] = [];
  const tickStyle = { color: "#000", width: 0.8 };
  panels.forEach((p, i) => {
    const lineStyle = { color: "#111", width: 1 };
    xAxis.push({
      type: "value", gridIndex: i, min: 0, max: 5.85, position: "bottom",
      axisLine: { show: true, onZero: false, lineStyle },
      axisTick: { show: true, inside: true, length: 4, customValues: xTicks, lineStyle: tickStyle },
      axisLabel: { show: p.xl, customValues: xTicks, fontSize: 8, fontFamily: SERIF, color: TEXT, margin: 6 },
      splitLine: { show: false },
    });
    xAxis.push({
      type: "value", gridIndex: i, min: 0, max: 5.85, position: "top",
      axisLine: { show: true, onZero: false, lineStyle },
      axisTick: { show: true, inside: true, length: 4, customValues: xTicks, lineStyle: tickStyle },
      axisLabel: { show: false },
      splitLine: { show: false },
    });
    yAxis.push({
      type: "value", gridIndex: i, min: p.min, max: p.max, position: "left",
      axisLine: { show: true, onZero: false, lineStyle },
      axisTick: { show: true, inside: true, length: 4, customValues: p.ticks, lineStyle: tickStyle },
      axisLabel: { show: true, customValues: p.ticks, formatter: p.fmt, fontSize: 8, fontFamily: SERIF, color: TEXT, margin: 5 },
      splitLine: { show: false },
    });
    yAxis.push({
      type: "value", gridIndex: i, min: p.min, max: p.max, position: "right",
      axisLine: { show: true, onZero: false, lineStyle },
      axisTick: { show: true, inside: true, length: 4, customValues: p.ticks, lineStyle: tickStyle },
      axisLabel: { show: false },
      splitLine: { show: false },
    });
    const sorted = [...p.pts].sort((a, b) => a[2] - b[2]);
    series.push({
      type: "scatter", xAxisIndex: 2 * i, yAxisIndex: 2 * i, data: sorted,
      symbolSize: 6.5, clip: true,
      itemStyle: { opacity: 0.42, color: (prm: any) => PALETTE[prm.value[2]] },
      z: 2,
    });
    series.push({
      type: "line", xAxisIndex: 2 * i, yAxisIndex: 2 * i, data: p.med, showSymbol: false, symbol: "none",
      lineStyle: { color: "#000", width: 2.6 }, z: 5, clip: true,
    });
    [p.up, p.lo].forEach((d) => {
      series.push({
        type: "line", xAxisIndex: 2 * i, yAxisIndex: 2 * i, data: d, showSymbol: false, symbol: "none",
        lineStyle: { color: "#000", width: 1.8, type: [1.8, 3.2] }, z: 4, clip: true,
      });
    });
  });

  const F = "'DejaVu Serif'";
  const rich = {
    i: { font: `italic 11.5px ${F}`, fill: TEXT },
    r: { font: `11.5px ${F}`, fill: TEXT },
    s: { font: `8px ${F}`, fill: TEXT, padding: [6, 0, 0, 0] },
    si: { font: `italic 8px ${F}`, fill: TEXT, padding: [6, 0, 0, 0] },
    p: { font: `8px ${F}`, fill: TEXT, padding: [0, 0, 6, 0] },
  };
  const ytitle = (x: number, y: number, text: string) => ({
    type: "text", x, y, rotation: Math.PI / 2,
    style: { text, rich, font: `11.5px ${F}`, fill: TEXT, align: "center", verticalAlign: "middle" },
  });
  const xtitle = (x: number) => ({
    type: "text", x, y: 272,
    style: { text: "time (runs) x100", font: `9px ${F}`, fill: TEXT, align: "center", verticalAlign: "middle" },
  });

  const graphic = [
    ytitle(12, 64, "{i|σ}{s|R}{r| (km/s)}"),
    ytitle(215, 63, "{i|σ}{si|z}{r| (km/s)}"),
    ytitle(11, 192, "{i|v}{si|R}{i|v}{si|z}{r| (km/s)}{p|2}"),
    { type: "line", shape: { x1: 4, y1: 199, x2: 4, y2: 233 }, style: { stroke: TEXT, lineWidth: 0.8 } },
    ytitle(213, 188, "{i|ϵ}{r| [%]}"),
    xtitle(118),
    xtitle(318),
  ];

  return {
    animation: false,
    backgroundColor: "#fff",
    grid: grids,
    xAxis, yAxis, series, graphic,
  };
}

export default function App() {
  const ref = useRef<HTMLDivElement>(null);
  useEffect(() => {
    if (!ref.current) return;
    const chart = echarts.init(ref.current, undefined, { renderer: "svg" });
    chart.setOption(buildOption() as any);
    return () => chart.dispose();
  }, []);
  return <div ref={ref} style={{ position: "fixed", left: 0, top: 0, width: 398, height: 281 }} />;
}
